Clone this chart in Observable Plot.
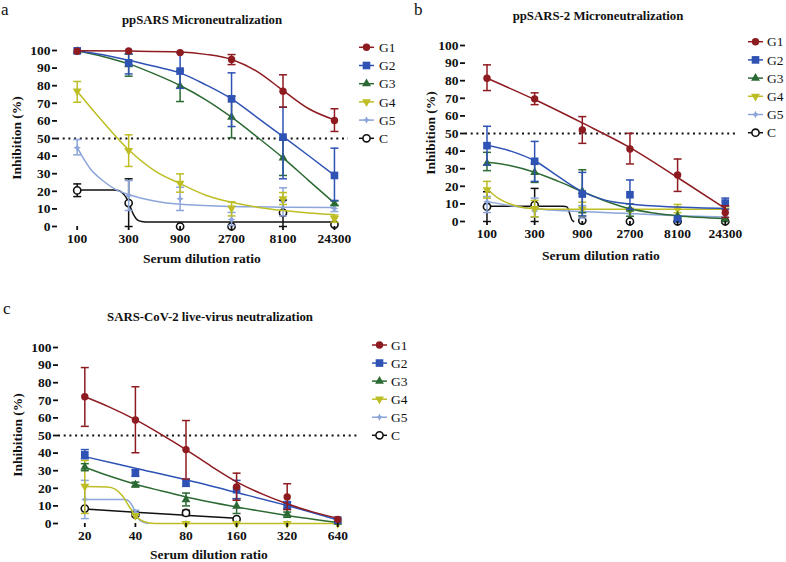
<!DOCTYPE html>
<html><head><meta charset="utf-8">
<script src="https://cdn.jsdelivr.net/npm/d3@7"></script>
<script src="https://cdn.jsdelivr.net/npm/@observablehq/plot@0.6"></script>
<style>
html,body{margin:0;padding:0;background:#fff;}
#root{position:relative;width:786px;height:562px;overflow:hidden;background:#fff;font-family:"Liberation Serif",serif;}
.panel{position:absolute;}
#overlay{position:absolute;left:0;top:0;}
</style></head><body><div id="root"></div>
<script>
// ---------------- DATA ----------------
const groups = ["G1", "G2", "G3", "G4", "G5", "C"];
const dilutionsAB = [100, 300, 900, 2700, 8100, 24300];
const dilutionsC = [20, 40, 80, 160, 320, 640];
const yTicks = [0, 10, 20, 30, 40, 50, 60, 70, 80, 90, 100];
const threshold = [50];

const titles = ["ppSARS Microneutralization", "ppSARS-2 Microneutralization", "SARS-CoV-2 live-virus neutralization"];
const panelLetters = ["a", "b", "c"];
const yLabel = "Inhibition (%)";
const xLabel = "Serum dilution ratio";

// Panel a: ppSARS (rows = groups, columns = dilutions)
const meanA = [
  [99.6, 99.7, 98.8, 94.9, 76.9, 60.2],
  [99.8, 93.0, 88.3, 72.5, 50.8, 29.0],
  [99.5, 92.0, 79.7, 62.1, 39.0, 12.9],
  [76.9, 43.2, 24.6, 10.5, 15.7, 4.5],
  [44.7, 17.6, 15.7, 4.0, 14.0, 10.2],
  [20.5, 13.3, 0, 0, 7.8, 1.1]
];
const lowA = [
  [null, null, null, 92.0, 67.8, 54.0],
  [null, 86.7, 78.5, 56.8, 27.1, 14.8],
  [null, 85.4, 71.0, 50.4, 29.0, 12.0],
  [70.6, 34.1, 19.5, 6.0, 12.5, 2.5],
  [40.7, 9.1, 9.1, 0.5, 6.0, 8.5],
  [17.0, 0, null, null, 0, null]
];
const highA = [
  [null, null, null, 97.7, 86.2, 66.9],
  [null, 98.0, 98.7, 87.3, 67.8, 44.5],
  [null, 98.0, 88.5, 74.0, 49.0, 14.5],
  [82.4, 52.1, 29.9, 14.0, 19.3, 6.5],
  [49.4, 26.1, 22.3, 8.0, 22.0, 12.0],
  [24.2, 27.1, null, null, 15.0, null]
];
// fitted curves: [dilution position, inhibition]
const fitA = [
  [[0, 99.9], [1, 99.7], [2, 99.2], [2.5, 97.8], [3, 94.9], [3.5, 88], [4, 77.3], [4.5, 66.9], [5, 60.6]],
  [[0, 99.9], [0.5, 97.6], [1, 94.5], [1.5, 91], [2, 87.3], [2.5, 80.5], [3, 72.5], [3.5, 61.9], [4, 51.1], [4.5, 40.2], [5, 29]],
  [[0, 99.9], [0.5, 96.6], [1, 92.4], [1.5, 86.7], [2, 80.1], [2.5, 72], [3, 62.1], [3.5, 50.8], [4, 39], [4.5, 26.1], [5, 13.3]],
  [[0, 76.9], [0.5, 59.5], [1, 43.6], [1.5, 31.8], [2, 24.4], [2.5, 17.8], [3, 13.8], [3.5, 11], [4, 9.1], [4.5, 7.7], [5, 6.8]],
  [[0, 44.8], [0.25, 33], [0.5, 26], [0.75, 21], [1, 18.2], [1.5, 14.5], [2, 12.6], [3, 11.4], [4, 11], [5, 10.8]],
  [[0, 20.8], [0.7, 20.8], [0.8, 20.4], [0.88, 19], [0.95, 16.5], [1.02, 12], [1.1, 6.5], [1.17, 3.8], [1.25, 2.9], [1.4, 2.6], [5, 2.5]]
];

// Panel b: ppSARS-2
const meanB = [
  [81.4, 69.7, 52.0, 41.2, 26.4, 5.1],
  [43.1, 34.2, 15.6, 15.2, 1.4, 10.5],
  [33.0, 27.9, 17.1, 7.0, 3.0, 1.0],
  [18.0, 7.4, 7.0, 6.5, 7.0, 6.5],
  [11.2, 6.0, 5.5, 4.5, 3.5, 3.0],
  [8.4, 9.3, 0.5, 0, 0, 0]
];
const lowB = [
  [74.4, 66.4, 44.4, 32.7, 17.1, 2.3],
  [32.1, 22.8, 3.2, 7.0, null, 7.0],
  [28.9, 22.2, 5.0, 3.0, null, null],
  [13.3, 2.7, 3.0, null, 5.0, null],
  [5.1, 2.4, 2.0, null, null, null],
  [0, 0, null, null, null, null]
];
const highB = [
  [89.0, 73.1, 59.6, 50.1, 35.5, 8.9],
  [54.1, 45.5, 27.9, 23.6, null, 13.3],
  [39.3, 33.0, 29.4, 10.0, null, null],
  [22.8, 12.0, 11.0, null, 9.7, 13.5],
  [14.2, 13.3, 9.0, null, null, null],
  [16.9, 18.8, null, null, null, null]
];
const fitB = [
  [[0, 81.4], [1, 69.3], [2, 56], [3, 42], [4, 25], [5, 7.4]],
  [[0, 43.3], [0.5, 40], [1, 34.5], [1.5, 25.5], [2, 17], [2.5, 12], [3, 9.9], [4, 8.2], [5, 7.4]],
  [[0, 33.6], [0.5, 31.7], [1, 28], [1.5, 22.8], [2, 17], [2.5, 11.5], [3, 7.2], [3.5, 4.8], [4, 3.2], [5, 1.6]],
  [[0, 18.5], [0.25, 13], [0.5, 9.8], [0.75, 8], [1, 7.3], [1.5, 7], [5, 7]],
  [[0, 11.3], [0.5, 9], [1, 7.3], [2, 5.7], [3, 4.5], [4, 3.3], [5, 2.6]],
  [[0, 8.7], [1.6, 8.7], [1.68, 8.3], [1.73, 5], [1.78, 1], [1.82, 0]]
];

// Panel c: SARS-CoV-2 live virus
const meanC = [
  [72.0, 58.8, 42.0, 20.7, 15.1, 2.3],
  [39.0, 28.7, 23.2, 19.2, 10.7, 1.9],
  [32.0, 22.0, 13.6, 9.8, 5.3, 0.8],
  [21.1, 4.5, 0, 0, 0, 0],
  [13.6, 6.2, 0, 0, 0, 0],
  [8.5, 5.0, 6.0, 2.5, null, null]
];
const lowC = [
  [55.2, 40.2, 25.3, 13.2, 7.9, null],
  [36.8, 26.8, 21.1, 14.1, 8.5, null],
  [30.0, 20.7, 10.0, 5.7, 3.5, null],
  [5.7, null, null, null, null, null],
  [2.8, 4.7, null, null, null, null],
  [null, null, 4.5, null, null, null]
];
const highC = [
  [88.6, 77.7, 58.5, 28.6, 22.6, null],
  [42.0, 30.6, 24.9, 24.5, 12.3, null],
  [34.0, 23.5, 17.3, 14.1, 6.5, null],
  [35.8, null, null, null, null, null],
  [24.5, 7.5, null, null, null, null],
  [null, null, 7.5, null, null, null]
];
const fitC = [
  [[0, 72], [0.5, 66], [1, 59], [1.5, 50.8], [2, 42], [2.5, 32.5], [3, 23.7], [3.5, 16.8], [4, 11.2], [4.5, 6.6], [5, 3]],
  [[0, 38], [1, 31.4], [2, 24.8], [3, 17.6], [4, 10.2], [5, 2]],
  [[0, 32], [0.5, 26.8], [1, 22.3], [1.5, 18.6], [2, 15.1], [3, 9.4], [4, 4.6], [5, 0.6]],
  [[0, 21], [0.45, 20.7], [0.6, 19.5], [0.75, 15.5], [0.88, 9.5], [1, 4.5], [1.1, 2], [1.25, 0.4], [1.4, 0], [5, 0]],
  [[0, 13.7], [0.8, 13.6], [0.88, 12.5], [0.95, 9.5], [1.02, 5], [1.1, 1.5], [1.25, 0]],
  [[0, 8.3], [1, 6.4], [2, 4.7], [3, 3]]
];

// ---------------- STYLE ----------------
const SQ3 = Math.sqrt(3);
const triDown = {draw(ctx, size) {
  const y = -Math.sqrt(size / (SQ3 * 3));
  ctx.moveTo(0, -2 * y); ctx.lineTo(-SQ3 * y, y); ctx.lineTo(SQ3 * y, y); ctx.closePath();
}};
const star4 = {draw(ctx, size) {
  const r = Math.sqrt(size / Math.PI) * 1.25, q = r * 0.33;
  ctx.moveTo(0, -r); ctx.lineTo(q, -q); ctx.lineTo(r, 0); ctx.lineTo(q, q);
  ctx.lineTo(0, r); ctx.lineTo(-q, q); ctx.lineTo(-r, 0); ctx.lineTo(-q, -q); ctx.closePath();
}};
const capSym = {draw(ctx, size) {
  const r = Math.sqrt(size / Math.PI);
  ctx.moveTo(-r, 0); ctx.lineTo(r, 0);
}};
const styles = [
  {color: "#8E1B20", symbol: d3.symbolCircle, r: 3.7},
  {color: "#2F52B5", symbol: d3.symbolSquare, r: 4.3},
  {color: "#2C6A33", symbol: d3.symbolTriangle, r: 3.3},
  {color: "#BDBD24", symbol: triDown, r: 3.3},
  {color: "#8CA5DA", symbol: star4, r: 3.0},
  {color: "#111111", symbol: d3.symbolCircle, r: 3.6, open: true}
];
const FONT = "'Liberation Serif', 'Times New Roman', serif";

function makePanel(cfg) {
  const {dil, mean, low, high, fit, xDomain, width, height, margin} = cfg;
  const xIdx = dil.map((d, i) => i);
  const marks = [
    Plot.ruleY(threshold, {stroke: "#111", strokeWidth: 2, strokeDasharray: "2 3.7"})
  ];
  for (let k = groups.length - 1; k >= 0; k--) {
    const st = styles[k];
    const rows = dil.map((d, i) => ({i, v: mean[k][i], lo: low[k][i], hi: high[k][i]}))
      .filter(r => r.v != null);
    const err = rows.filter(r => r.lo != null && r.hi != null);
    marks.push(
      Plot.ruleX(err, {x: "i", y1: "lo", y2: "hi", stroke: st.color, strokeWidth: 1.5}),
      Plot.dot(err, {x: "i", y: "hi", symbol: capSym, r: 4, stroke: st.color, fill: "none", strokeWidth: 1.5}),
      Plot.dot(err, {x: "i", y: "lo", symbol: capSym, r: 4, stroke: st.color, fill: "none", strokeWidth: 1.5}),
      Plot.line(fit[k], {x: d => d[0], y: d => d[1], curve: "monotone-x", stroke: st.color, strokeWidth: 1.5}),
      Plot.dot(rows, st.open
        ? {x: "i", y: "v", symbol: st.symbol, r: st.r, fill: "white", stroke: st.color, strokeWidth: 1.6}
        : {x: "i", y: "v", symbol: st.symbol, r: st.r, fill: st.color, stroke: "none"})
    );
  }
  marks.push(
    Plot.axisY({ticks: yTicks, tickSize: 5, tickPadding: 2, line: true, strokeWidth: 1.8, label: null}),
    Plot.axisX({ticks: xIdx, tickFormat: i => String(dil[i]), tickSize: 4, tickPadding: 3, line: true, strokeWidth: 1.8, label: null})
  );
  return Plot.plot({
    width, height,
    marginLeft: margin[0], marginRight: margin[1], marginTop: margin[2], marginBottom: margin[3],
    x: {type: "linear", domain: xDomain},
    y: {type: "linear", domain: [0, 100]},
    style: {fontFamily: FONT, fontSize: "13.5px", fontWeight: "bold", color: "#111", background: "transparent", overflow: "visible"},
    marks
  });
}

const root = document.getElementById("root");
const panels = [
  {left: 0, top: 0, dil: dilutionsAB, mean: meanA, low: lowA, high: highA, fit: fitA,
   xDomain: [-0.383, 5.273], width: 400, height: 270, margin: [57, 52, 50, 44]},
  {left: 400, top: 0, dil: dilutionsAB, mean: meanB, low: lowB, high: highB, fit: fitB,
   xDomain: [-0.451, 5.257], width: 386, height: 265, margin: [65, 49, 45, 44]},
  {left: 0, top: 280, dil: dilutionsC, mean: meanC, low: lowC, high: highC, fit: fitC,
   xDomain: [-0.52, 5.449], width: 400, height: 282, margin: [58, 40, 67, 39]}
];
for (const p of panels) {
  const div = document.createElement("div");
  div.className = "panel";
  div.style.left = p.left + "px";
  div.style.top = p.top + "px";
  div.appendChild(makePanel(p));
  root.appendChild(div);
}

// ---------------- OVERLAY: letters, titles, axis labels, legends ----------------
const svg = d3.select(root).append("svg").attr("id", "overlay")
  .attr("width", 786).attr("height", 562).style("font-family", FONT);

const letterPos = [[1, 15], [414, 15], [3, 314]];
panelLetters.forEach((t, i) => svg.append("text").attr("x", letterPos[i][0]).attr("y", letterPos[i][1])
  .attr("font-size", 17).attr("fill", "#111").text(t));

const titlePos = [[202, 23.5], [598, 19.5], [210, 320.7]];
titles.forEach((t, i) => svg.append("text").attr("x", titlePos[i][0]).attr("y", titlePos[i][1])
  .attr("text-anchor", "middle").attr("font-size", 12.8).attr("font-weight", "bold").attr("fill", "#111").text(t));

const yLabelPos = [[16, 138], [430, 133], [17.5, 435]];
yLabelPos.forEach(([x, y]) => svg.append("text")
  .attr("transform", `translate(${x},${y}) rotate(-90)`).attr("dy", "0.35em")
  .attr("text-anchor", "middle").attr("font-size", 13.5).attr("font-weight", "bold").attr("fill", "#111").text(yLabel));

const xLabelPos = [[202, 263], [601, 259.5], [209, 558.5]];
xLabelPos.forEach(([x, y]) => svg.append("text").attr("x", x).attr("y", y)
  .attr("text-anchor", "middle").attr("font-size", 13.5).attr("font-weight", "bold").attr("fill", "#111").text(xLabel));

const legendPos = [
  {x0: 359, x1: 374, tx: 379, y0: 47.3, dy: 18.2},
  {x0: 748, x1: 763, tx: 767, y0: 41.7, dy: 18.2},
  {x0: 372, x1: 387, tx: 391, y0: 345, dy: 18.06}
];
for (const L of legendPos) {
  groups.forEach((g, k) => {
    const st = styles[k];
    const y = L.y0 + k * L.dy;
    const gg = svg.append("g");
    gg.append("line").attr("x1", L.x0).attr("x2", L.x1).attr("y1", y).attr("y2", y)
      .attr("stroke", st.color).attr("stroke-width", 1.5);
    gg.append("path").attr("transform", `translate(${(L.x0 + L.x1) / 2},${y})`)
      .attr("d", d3.symbol().type(st.symbol).size(st.r * st.r * Math.PI)())
      .attr("fill", st.open ? "white" : st.color)
      .attr("stroke", st.open ? st.color : "none").attr("stroke-width", 1.6);
    gg.append("text").attr("x", L.tx).attr("y", y + 4.6).attr("font-size", 13.5)
      .attr("fill", "#111").text(g);
  });
}
</script></body></html>
